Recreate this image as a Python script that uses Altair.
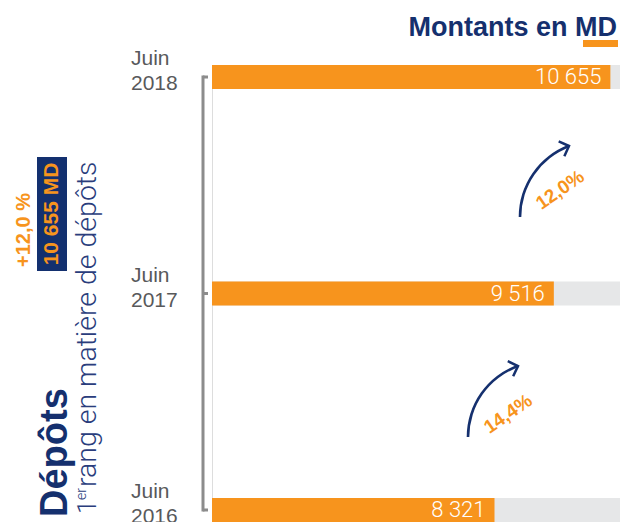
import altair as alt
import pandas as pd

# ---- data ----
years = ["2018", "2017", "2016"]
deposits = [10655, 9516, 8321]
value_labels = ["10 655", "9 516", "8 321"]
tick_labels = ["Juin\n2018", "Juin\n2017", "Juin\n2016"]
growth_labels = ["12,0%", "14,4%"]
X_MIN, X_MAX = 2630, 10849

ORANGE = "#f7941d"
NAVY = "#15306e"
GREY_TRACK = "#e6e7e8"
GREY_AXIS = "#8c8c8c"
LIGHT_NAVY = "#2a3d7c"

df = pd.DataFrame({"year": years, "value": deposits, "label": value_labels, "tick": tick_labels})

W, H = 408, 457
y_scale = alt.Scale(domain=years, paddingInner=0.889, paddingOuter=0)
x_scale = alt.Scale(domain=[X_MIN, X_MAX], zero=False, nice=False)
Y = alt.Y("year:N", scale=y_scale, axis=None)

base = alt.Chart(df).transform_calculate(lo=str(X_MIN), hi=str(X_MAX))

track = base.mark_bar(color=GREY_TRACK).encode(
    x=alt.X("lo:Q", scale=x_scale, axis=None), x2="hi:Q", y=Y)
bars = base.mark_bar(color=ORANGE).encode(
    x=alt.X("value:Q", scale=x_scale, axis=None), x2="lo:Q", y=Y)
vals = base.mark_text(align="right", baseline="middle", dx=-9, color="white",
                      fontSize=22, font="Roboto", fontWeight=300).encode(
    x=alt.X("value:Q", scale=x_scale, axis=None), y=Y, text="label:N")
ticks = base.mark_text(align="left", baseline="middle", lineBreak="\n", lineHeight=25,
                       dy=-18, fontSize=21, font="Liberation Sans", color="#58595b").encode(
    x=alt.value(-81), y=Y, text="tick:N")

# bracket axis
bracket = alt.Chart(pd.DataFrame({"a": [years[0]], "b": [years[-1]]})).mark_rule(
    color=GREY_AXIS, strokeWidth=3, strokeCap="square").encode(
    y=alt.Y("a:N", scale=y_scale, axis=None), y2="b:N", x=alt.value(-9))
hooks = base.mark_rule(color=GREY_AXIS, strokeWidth=3).encode(
    y=Y, x=alt.value(-9), x2=alt.value(-4))

# title
title = alt.Chart(pd.DataFrame({"t": ["Montants en MD"]})).mark_text(
    align="right", baseline="alphabetic", fontSize=27, fontWeight="bold",
    font="Liberation Sans", color=NAVY).encode(
    x=alt.value(405), y=alt.value(-29), text="t:N")
underline = alt.Chart(pd.DataFrame({"t": [0]})).mark_rule(color=ORANGE, strokeWidth=7).encode(
    x=alt.value(371), x2=alt.value(406), y=alt.value(-21.5))

# growth arrows
arrows = []
arc_specs = [  # cx, cy, r, theta_end, tip_x, tip_y, angle, text_x, text_y
    (383.9, 152, 75.9, 5.921, 357, 81, 339.25, 348, 125),
    (331.4, 372, 75.4, 5.939, 306, 301, 340.3, 296, 349),
]
for (cx, cy, r, th2, tx, ty, ang, lx, ly), g in zip(arc_specs, growth_labels):
    arrows.append(alt.Chart(pd.DataFrame({"t": [0]})).mark_arc(
        color=NAVY, theta=4.712, theta2=th2, radius=r + 1.3, radius2=r - 1.3).encode(
        x=alt.value(cx), y=alt.value(cy)))
    arrows.append(alt.Chart(pd.DataFrame({"t": [0]})).mark_point(
        shape="M-1,-1L0,0L-1,1", filled=False, color=NAVY, strokeWidth=2.5,
        size=256, angle=ang, opacity=1).encode(x=alt.value(tx), y=alt.value(ty)))
    arrows.append(alt.Chart(pd.DataFrame({"t": [g]})).mark_text(
        angle=325, align="center", baseline="middle", fontSize=19, fontWeight="bold",
        font="Liberation Sans", color=ORANGE).encode(
        x=alt.value(lx), y=alt.value(ly), text="t:N"))

# left vertical texts
def vtext(txt, x, y, size, weight, color, align="left", baseline="alphabetic", font="Liberation Sans"):
    return alt.Chart(pd.DataFrame({"t": [txt]})).mark_text(
        angle=270, align=align, baseline=baseline, fontSize=size, fontWeight=weight,
        font=font, color=color).encode(x=alt.value(x), y=alt.value(y), text="t:N")

box = alt.Chart(pd.DataFrame({"t": [0]})).mark_rect(color="#13306f").encode(
    x=alt.value(-175), x2=alt.value(-145), y=alt.value(92), y2=alt.value(206))

left = [
    vtext("Dépôts", -145, 452, 38, "bold", NAVY),
    vtext("1", -116, 449, 25, 300, LIGHT_NAVY, font="Roboto"),
    vtext("er", -126, 435, 14, 300, LIGHT_NAVY, font="Roboto"),
    vtext("rang en matière de dépôts", -116, 422, 28.5, 300, LIGHT_NAVY, font="Roboto"),
    box,
    vtext("10 655 MD", -160, 149, 21, "bold", ORANGE, align="center", baseline="middle"),
    vtext("+12,0 %", -182, 165, 20, "bold", ORANGE, align="center"),
]

chart = alt.layer(track, bars, vals, ticks, bracket, hooks, title, underline, *arrows, *left).properties(
    width=W, height=H,
    padding={"left": 204, "top": 57, "right": 0, "bottom": 0},
    autosize=alt.AutoSizeParams(type="none"),
).configure_view(stroke=None).configure(font="Liberation Sans")

chart.save("out.html", embed_options={"renderer": "svg", "actions": False})
